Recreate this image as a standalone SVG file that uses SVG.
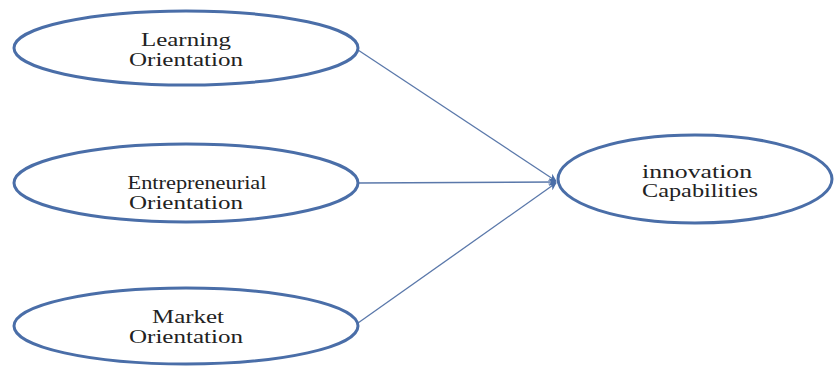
<svg xmlns="http://www.w3.org/2000/svg" width="835" height="366" viewBox="0 0 835 366">
<style>
.node ellipse{fill:#ffffff;stroke:#4a6ea8;stroke-width:3}
.node text{font-family:"Liberation Serif","Times New Roman",serif;font-size:18px;fill:#222;text-anchor:middle}
.edge{stroke:#5a78aa;stroke-width:1.3;fill:none;marker-end:url(#arr)}
</style>
<defs>
<marker id="arr" viewBox="0 0 10 10" refX="9" refY="5" markerWidth="8" markerHeight="8" markerUnits="userSpaceOnUse" orient="auto">
<path d="M0,0 L10,5 L0,10 L3,5 Z" fill="#4a6ea8"/>
</marker>
</defs>
<rect width="835" height="366" fill="#ffffff"/>
<g id="connectors">
<line class="edge" x1="358" y1="50" x2="556" y2="181"/>
<line class="edge" x1="358" y1="183" x2="556" y2="182"/>
<line class="edge" x1="358" y1="323" x2="556" y2="183"/>
</g>
<g id="learning" class="node">
<ellipse cx="186" cy="48" rx="172" ry="37"/>
<text x="186" y="46" textLength="90" lengthAdjust="spacingAndGlyphs">Learning</text>
<text x="186" y="66" textLength="114" lengthAdjust="spacingAndGlyphs">Orientation</text>
</g>
<g id="entrepreneurial" class="node">
<ellipse cx="186" cy="183" rx="172" ry="39"/>
<text x="197" y="189" textLength="139" lengthAdjust="spacingAndGlyphs">Entrepreneurial</text>
<text x="186" y="209" textLength="114" lengthAdjust="spacingAndGlyphs">Orientation</text>
</g>
<g id="market" class="node">
<ellipse cx="186" cy="326" rx="172" ry="38"/>
<text x="188" y="323" textLength="72" lengthAdjust="spacingAndGlyphs">Market</text>
<text x="186" y="343" textLength="114" lengthAdjust="spacingAndGlyphs">Orientation</text>
</g>
<g id="innovation" class="node">
<ellipse cx="695" cy="179" rx="137" ry="44"/>
<text x="697" y="178" textLength="110" lengthAdjust="spacingAndGlyphs">innovation</text>
<text x="700" y="197" textLength="116" lengthAdjust="spacingAndGlyphs">Capabilities</text>
</g>
</svg>
